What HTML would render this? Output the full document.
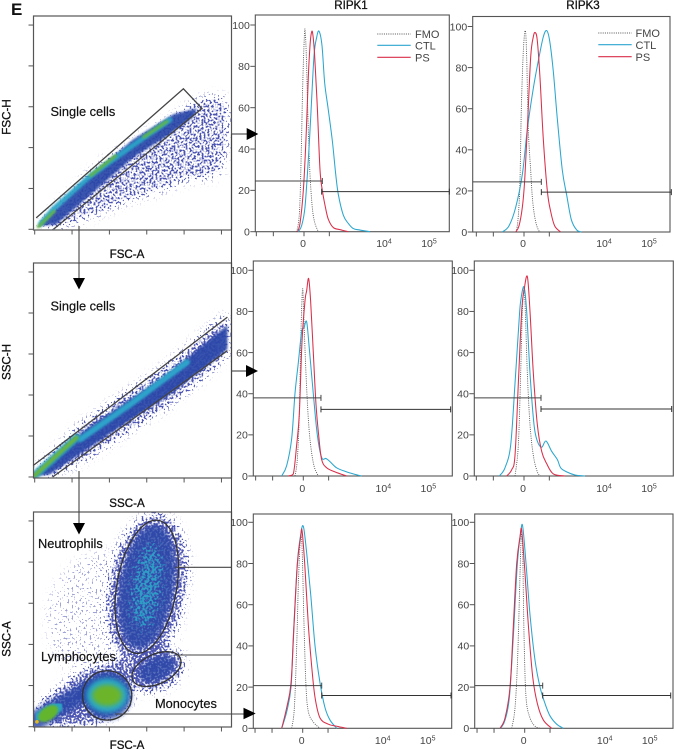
<!DOCTYPE html>
<html lang="en">
<head>
<meta charset="utf-8">
<title>RIPK1 and RIPK3 flow cytometry panel</title>
<style>
html,body{margin:0;padding:0;background:#fff;}
svg{display:block;font-family:"Liberation Sans",sans-serif;}
.title{font-size:11.6px;fill:#111;stroke:#111;stroke-width:.3px;}
.anno{font-size:12.8px;fill:#111;stroke:#111;stroke-width:.2px;}
.tick{font-size:10.5px;fill:#444;}
.legend{font-size:11px;fill:#444;}
</style>
</head>
<body>
<svg id="figure" xmlns="http://www.w3.org/2000/svg" width="674" height="749" viewBox="0 0 674 749">
  <defs>
    <filter id="speckle" x="-15%" y="-15%" width="130%" height="130%" color-interpolation-filters="sRGB">
      <feGaussianBlur in="SourceGraphic" stdDeviation="5" result="dens"/>
      <feTurbulence type="fractalNoise" baseFrequency=".5" numOctaves="1" seed="4" result="n"/>
      <feColorMatrix in="n" type="matrix" values="0 0 0 0 0  0 0 0 0 0  0 0 0 0 0  3 0 0 0 -1" result="noise"/>
      <feComposite in="dens" in2="noise" operator="arithmetic" k1="0" k2="1" k3="1" k4="-1" result="sum"/>
      <feColorMatrix in="sum" type="matrix" values="0 0 0 0 .3  0 0 0 0 .33  0 0 0 0 .7  0 0 0 3.2 0"/>
    </filter>
    <filter id="speckleTeal" x="-30%" y="-30%" width="160%" height="160%" color-interpolation-filters="sRGB">
      <feGaussianBlur in="SourceGraphic" stdDeviation="5" result="dens"/>
      <feTurbulence type="fractalNoise" baseFrequency=".42" numOctaves="1" seed="9" result="n"/>
      <feColorMatrix in="n" type="matrix" values="0 0 0 0 0  0 0 0 0 0  0 0 0 0 0  3 0 0 0 -1" result="noise"/>
      <feComposite in="dens" in2="noise" operator="arithmetic" k1="0" k2="1" k3="1" k4="-1" result="sum"/>
      <feColorMatrix in="sum" type="matrix" values="0 0 0 0 .18  0 0 0 0 .62  0 0 0 0 .78  0 0 0 2.6 0"/>
    </filter>
    <filter id="soft1" x="-30%" y="-30%" width="160%" height="160%"><feGaussianBlur stdDeviation="1"/></filter>
    <filter id="soft2" x="-30%" y="-30%" width="160%" height="160%"><feGaussianBlur stdDeviation="2.5"/></filter>
    <clipPath id="clip-fsc"><rect x="33.5" y="16" width="198" height="214"/></clipPath>
    <clipPath id="clip-ssc"><rect x="33.5" y="263" width="198" height="215"/></clipPath>
    <clipPath id="clip-gran"><rect x="33.5" y="512" width="198" height="215"/></clipPath>
  </defs>
  <g id="scatter-layer"></g>
  <g id="hist-layer"></g>
  <g id="arrow-layer"></g>

  <text x="11" y="15" font-size="17" font-weight="bold" fill="#111">E</text>
  <text class="title" x="351" y="9" text-anchor="middle">RIPK1</text>
  <text class="title" x="583" y="9" text-anchor="middle">RIPK3</text>

  <text class="title" transform="translate(10.5,117) rotate(-90)" text-anchor="middle">FSC-H</text>
  <text class="title" x="127" y="258" text-anchor="middle">FSC-A</text>
  <text class="title" transform="translate(10.5,362) rotate(-90)" text-anchor="middle">SSC-H</text>
  <text class="title" x="127" y="507" text-anchor="middle">SSC-A</text>
  <text class="title" transform="translate(10.5,639) rotate(-90)" text-anchor="middle">SSC-A</text>
  <text class="title" x="127" y="749" text-anchor="middle">FSC-A</text>

  <text class="anno" x="50.5" y="116">Single cells</text>
  <text class="anno" x="50.5" y="310.5">Single cells</text>
  <text class="anno" x="38" y="548">Neutrophils</text>
  <text class="anno" x="41" y="661">Lymphocytes</text>
  <text class="anno" x="155" y="708">Monocytes</text>

  <g>
    <text class="legend" x="415" y="38">FMO</text>
    <text class="legend" x="415" y="49.5">CTL</text>
    <text class="legend" x="415" y="61.5">PS</text>
  </g>
  <g>
    <text class="legend" x="635.5" y="37">FMO</text>
    <text class="legend" x="635.5" y="49">CTL</text>
    <text class="legend" x="635.5" y="61">PS</text>
  </g>
</svg>

<script>
/* ---------- Histogram data: [channel, % of max]. Channel 0 = "0" tick; 240 = 10^4; 375 = 10^5 ---------- */
const yTickValues = [0, 20, 40, 60, 80, 100];
const xTickChannels = [-143, -92, 0, 76];
const xDecadeChannels = [0, 240, 375];
const xDecadeLabels = ['0', '10', '10'];
const xDecadeExponents = ['', '4', '5'];

const ripk1TopFmo = [[-22,0],[-16,5],[-12,15],[-8,40],[-4,70],[0,90],[3,98],[7,85],[11,60],[16,35],[20,22],[26,10],[33,4],[43,0]];
const ripk1TopPs = [[-20,0],[-12,4],[-2,20],[6,45],[13,75],[18,90],[22,96],[26,96],[32,85],[40,60],[48,30],[55,20],[64,12],[73,6],[88,2],[108,1],[133,0]];
const ripk1TopCtl = [[-17,0],[-7,3],[3,12],[13,35],[20,55],[30,85],[38,94],[45,97],[54,90],[62,72],[72,60],[85,44],[95,28],[103,18],[118,8],[133,4],[148,1.5],[168,.8],[198,0]];

const ripk3TopFmo = [[-23,0],[-17,8],[-12,25],[-8,60],[-2,88],[4,98],[8,85],[13,50],[20,30],[26,15],[35,5],[45,.5],[52,0]];
const ripk3TopPs = [[-25,0],[-15,3],[-5,12],[2,25],[10,50],[20,85],[28,95],[34,97],[40,93],[48,75],[58,45],[70,20],[80,10],[92,3],[110,0]];
const ripk3TopCtl = [[-65,0],[-45,3],[-25,12],[-5,28],[10,50],[28,70],[45,85],[58,95],[68,98],[77,93],[88,78],[100,55],[115,30],[128,18],[142,6],[158,1],[172,0]];

const ripk1MidFmo = [[-25,0],[-18,8],[-12,30],[-7,70],[-2,91],[2,75],[8,50],[15,28],[22,15],[32,5],[45,0]];
const ripk1MidPs = [[-45,0],[-30,1],[-20,15],[-12,30],[-4,65],[5,85],[10,90],[16,96],[22,85],[30,60],[38,35],[46,20],[55,8],[70,4],[95,2],[130,0]];
const ripk1MidCtl = [[-65,0],[-50,5],[-35,18],[-25,40],[-15,55],[-5,70],[2,72],[10,75],[18,62],[30,40],[42,20],[55,9],[68,8.5],[80,7],[100,4],[130,2],[155,.8],[175,0]];

const ripk3MidFmo = [[-27,0],[-17,15],[-10,50],[-5,80],[0,91],[4,80],[10,50],[18,25],[28,10],[40,2],[50,0]];
const ripk3MidPs = [[-52,0],[-37,3],[-27,10],[-17,45],[-7,80],[0,90],[10,97],[18,80],[28,50],[40,25],[53,12],[68,6],[88,1],[123,0]];
const ripk3MidCtl = [[-74,0],[-57,4],[-40,15],[-27,45],[-15,75],[-10,85],[0,92],[8,80],[18,50],[30,25],[40,17],[53,14],[66,17],[83,12],[100,8],[110,4],[128,2],[153,.5],[183,0]];

const ripk1LowFmo = [[-33,0],[-25,10],[-18,40],[-13,70],[-7,92],[-2,88],[4,50],[10,20],[17,8],[32,3],[52,0]];
const ripk1LowPs = [[-63,0],[-48,10],[-35,22],[-26,50],[-16,80],[-6,93],[-2,96],[6,80],[17,50],[27,30],[37,15],[52,5],[77,2],[102,1],[132,0]];
const ripk1LowCtl = [[-63,0],[-48,8],[-35,20],[-28,45],[-16,80],[-6,94],[2,98],[12,85],[24,65],[37,40],[52,22],[67,10],[82,4],[102,0]];

const ripk3LowFmo = [[-39,0],[-29,10],[-21,35],[-14,75],[-10,94],[-6,85],[-2,45],[4,15],[16,5],[31,1],[46,0]];
const ripk3LowPs = [[-74,0],[-59,5],[-44,20],[-34,50],[-24,80],[-14,93],[-9,96],[1,75],[11,50],[24,25],[38,12],[56,4],[81,0]];
const ripk3LowCtl = [[-72,0],[-59,4],[-46,15],[-34,45],[-22,80],[-12,95],[-6,98],[4,80],[16,55],[31,33],[46,20],[61,12],[76,6],[96,2],[116,0]];

/* gate bars: [%, end/start channel, end channel] */
const ripk1TopGates = [24.5, 55, 19.4, 53, 436];
const ripk3TopGates = [24.4, 52, 19.4, 52, 442];
const ripk1MidGates = [38, 53, 32.4, 53, 442];
const ripk3MidGates = [38, 51, 32.6, 51, 443];
const ripk1LowGates = [20.7, 57, 15.9, 57, 445];
const ripk3LowGates = [20.7, 54, 15.9, 54, 438];

/* ---------- Scatter data, in thousands of events-scale units (0-250k) ---------- */
const scatterTicks = [0, 50, 100, 150, 200, 250];

const fscCloud = [[3,3],[88,81],[195,144],[221,160],[248,164],[259,154],[259,109],[248,65],[204,60],[159,44],[128,36],[79,16],[29,1]];
const fscDense = [[4,4],[65,58],[132,110],[186,141],[217,148],[213,138],[177,114],[132,88],[79,46],[29,6]];
const fscCyanRidge = [[8,7],[25,25],[74,65],[132,103],[181,134]];
const fscGreenRidges = [[[5,3],[26,22]],[[75,66],[108,90]],[[146,113],[177,132]]];
const fscGate = [[2,14],[199,172],[224,148],[25,0]];

const sscCloud = [[-2,6],[65,66],[177,136],[258,200],[258,148],[221,118],[177,86],[132,60],[65,20],[20,0]];
const sscDense = [[-2,1],[65,56],[177,125],[258,185],[258,156],[221,129],[177,98],[132,72],[65,31],[20,3]];
const sscCyanRidge = [[61,46],[130,90],[204,140]];
const sscGreenRidge = [[0,2],[56,48]];
const sscGateUpper = [[-2,14],[258,195]];
const sscGateLower = [[24,0],[258,154]];

/* ellipses: [centre x, centre y, radius x, radius y, rotation deg] */
const granSparse = [[105,130,90,85,0]];
const granNeutrophilCloud = [[150,168,52,92,10]];
const granMonocyteCloud = [[163,70,38,25,-25]];
const granLowBandCloud = [[0,24],[65,68],[123,84],[132,32],[88,4],[25,0]];
const granNeutrophilCore = [[150,170,36,76,9]];
const granNeutrophilTeal = [[150,170,20,54,8]];
const granMonocyteCore = [[163,70,26,14,-25]];
const granLymphRing = [[97,38,32,29,0]];
const granLymphCyan = [[97,38,28,21,0]];
const granLymphGreen = [[97,38,20,13,0]];
const granDebrisBand = [[3,8],[75,46]];
const granDebrisTeal = [[8,12],[30,24]];
const granDebrisGreen = [[18,16,15,8,-35]];
const granDebrisYellow = [[3,6,2.5,2.2,0]];
const granNeutrophilGate = [[150,170,40,82,10]];
const granLymphGate = [[97,38,33,30,0]];
const granMonocyteGate = [[163,70,35,18,-25]];

/* ---------- Drawing ---------- */
const NS = 'http://www.w3.org/2000/svg';
function make(parent, tag, attrs) {
  const el = document.createElementNS(NS, tag);
  for (const k in attrs) el.setAttribute(k, attrs[k]);
  parent.appendChild(el);
  return el;
}
const scatterLayer = document.getElementById('scatter-layer');
const histLayer = document.getElementById('hist-layer');
const arrowLayer = document.getElementById('arrow-layer');

function smoothPath(pts, floor) {
  let d = 'M' + pts[0][0].toFixed(2) + ' ' + pts[0][1].toFixed(2);
  for (let i = 0; i < pts.length - 1; i++) {
    const p0 = pts[Math.max(i - 1, 0)], p1 = pts[i], p2 = pts[i + 1], p3 = pts[Math.min(i + 2, pts.length - 1)];
    const c1x = p1[0] + (p2[0] - p0[0]) / 6, c1y = Math.min(floor, p1[1] + (p2[1] - p0[1]) / 6);
    const c2x = p2[0] - (p3[0] - p1[0]) / 6, c2y = Math.min(floor, p2[1] - (p3[1] - p1[1]) / 6);
    d += 'C' + [c1x, c1y, c2x, c2y, p2[0], p2[1]].map(v => v.toFixed(2)).join(' ');
  }
  return d;
}

/* Histograms */
const histPanels = [
  {name:'ripk1-top', left:255.3, right:449.3, top:15, y0:231.7, y100:25, x0:304, labelY:247, fmo:ripk1TopFmo, ps:ripk1TopPs, ctl:ripk1TopCtl, gates:ripk1TopGates},
  {name:'ripk3-top', left:472.7, right:670, top:16.5, y0:232, y100:26.5, x0:524, labelY:247, fmo:ripk3TopFmo, ps:ripk3TopPs, ctl:ripk3TopCtl, gates:ripk3TopGates},
  {name:'ripk1-middle', left:253.3, right:452.3, top:261, y0:476, y100:270.3, x0:303.3, labelY:492, fmo:ripk1MidFmo, ps:ripk1MidPs, ctl:ripk1MidCtl, gates:ripk1MidGates},
  {name:'ripk3-middle', left:474.3, right:673.3, top:261, y0:476, y100:270.3, x0:524, labelY:492, fmo:ripk3MidFmo, ps:ripk3MidPs, ctl:ripk3MidCtl, gates:ripk3MidGates},
  {name:'ripk1-bottom', left:253.3, right:451.7, top:514, y0:728.3, y100:522.3, x0:302.7, labelY:744, fmo:ripk1LowFmo, ps:ripk1LowPs, ctl:ripk1LowCtl, gates:ripk1LowGates},
  {name:'ripk3-bottom', left:474.7, right:673, top:514, y0:728.3, y100:522.3, x0:524.7, labelY:744, fmo:ripk3LowFmo, ps:ripk3LowPs, ctl:ripk3LowCtl, gates:ripk3LowGates}
];

histPanels.forEach(function (p) {
  const xScale = c => p.x0 + c / 3;
  const yScale = v => p.y0 - v * (p.y0 - p.y100) / 100;
  const g = make(histLayer, 'g', {});
  
  

  const frame = make(g, 'rect', {x:p.left, y:p.top, width:p.right - p.left, height:p.y0 - p.top, fill:'none', stroke:'#555', 'stroke-width':1.1});
  
  

  yTickValues.forEach(function (v) {
    const t = make(g, 'line', {x1:p.left - 5, x2:p.left, y1:yScale(v), y2:yScale(v), stroke:'#555', 'stroke-width':1});
    
    
    const lab = make(g, 'text', {x:p.left - 5.5, y:yScale(v) + 3.8, 'text-anchor':'end', class:'tick'});
    lab.textContent = String(v);
    
    
  });
  xTickChannels.forEach(function (c) {
    const t = make(g, 'line', {x1:xScale(c), x2:xScale(c), y1:p.y0, y2:p.y0 + 4.5, stroke:'#555', 'stroke-width':1});
    
    
  });
  xDecadeChannels.forEach(function (c, i) {
    const lab = make(g, 'text', {x:xScale(c) - (i ? 0 : 1), y:p.labelY, 'text-anchor':'middle', class:'tick'});
    lab.textContent = xDecadeLabels[i];
    if (xDecadeExponents[i]) {
      const sup = make(lab, 'tspan', {dy:-3.5, 'font-size':7});
      sup.textContent = xDecadeExponents[i];
    }
    
    
  });

  const toPts = s => s.map(d => [xScale(d[0]), yScale(d[1])]);
  const fmo = make(g, 'path', {d:smoothPath(toPts(p.fmo), p.y0), fill:'none', stroke:'#555', 'stroke-width':.9, 'stroke-dasharray':'1 1.2'});
  
  
  const ctl = make(g, 'path', {d:smoothPath(toPts(p.ctl), p.y0), fill:'none', stroke:'#2ba6cf', 'stroke-width':1.05});
  
  
  const ps = make(g, 'path', {d:smoothPath(toPts(p.ps), p.y0), fill:'none', stroke:'#d92f4a', 'stroke-width':1.05});
  
  

  const gv = p.gates;
  const neg = make(g, 'path', {d:'M' + p.left + ' ' + yScale(gv[0]) + 'H' + xScale(gv[1]) + 'M' + xScale(gv[1]) + ' ' + (yScale(gv[0]) - 3) + 'v6', fill:'none', stroke:'#444', 'stroke-width':1});
  
  
  const pos = make(g, 'path', {d:'M' + xScale(gv[3]) + ' ' + yScale(gv[2]) + 'H' + xScale(gv[4]) + 'M' + xScale(gv[3]) + ' ' + (yScale(gv[2]) - 3) + 'v6M' + xScale(gv[4]) + ' ' + (yScale(gv[2]) - 3) + 'v6', fill:'none', stroke:'#333', 'stroke-width':1});
  
  
});

/* Legend keys */
[[377.3, 410.7, 34, 45.3, 57.3, 'ripk1'], [598.3, 631.7, 33, 44.7, 56.7, 'ripk3']].forEach(function (k) {
  const a = make(histLayer, 'line', {x1:k[0], x2:k[1], y1:k[2], y2:k[2], stroke:'#555', 'stroke-width':.9, 'stroke-dasharray':'1 1.2'});
  
  
  const b = make(histLayer, 'line', {x1:k[0], x2:k[1], y1:k[3], y2:k[3], stroke:'#2ba6cf', 'stroke-width':1.05});
  
  
  const c = make(histLayer, 'line', {x1:k[0], x2:k[1], y1:k[4], y2:k[4], stroke:'#d92f4a', 'stroke-width':1.05});
  
  
});

/* Scatter plots */
const xK = v => 34.7 + v * 0.747;
function scatterFrame(name, top, bottom, y0, perK, clipId) {
  const yK = v => y0 - v * perK;
  const g = make(scatterLayer, 'g', {});
  
  
  const clip = make(g, 'g', {'clip-path':'url(#' + clipId + ')'});
  
  
  const frame = make(g, 'rect', {x:33.5, y:top, width:198, height:bottom - top, fill:'none', stroke:'#555', 'stroke-width':1.2});
  
  
  scatterTicks.forEach(function (v) {
    const ty = make(g, 'line', {x1:28.5, x2:33.5, y1:yK(v), y2:yK(v), stroke:'#555', 'stroke-width':1});
    
    
    const tx = make(g, 'line', {x1:xK(v), x2:xK(v), y1:bottom, y2:bottom + 4.5, stroke:'#555', 'stroke-width':1});
    
    
  });
  return {g, clip, yK};
}
function polyPoints(arr, yK) { return arr.map(d => xK(d[0]).toFixed(1) + ',' + yK(d[1]).toFixed(1)).join(' '); }
function blobPoly(parent, arr, yK, fill, filter, opacity, name) {
  const el = make(parent, 'polygon', {points:polyPoints(arr, yK), fill:fill, opacity:opacity});
  if (filter) el.setAttribute('filter', 'url(#' + filter + ')');
  
  
  return el;
}
function ridge(parent, arr, yK, stroke, width, filter, opacity, name) {
  const el = make(parent, 'polyline', {points:polyPoints(arr, yK), fill:'none', stroke:stroke, 'stroke-width':width, 'stroke-linecap':'round', opacity:opacity});
  if (filter) el.setAttribute('filter', 'url(#' + filter + ')');
  
  
  return el;
}
function ellipses(parent, arr, yK, perK, style, name) {
  arr.forEach(function (e) {
    const cx = xK(e[0]), cy = yK(e[1]);
    const attrs = {cx:cx, cy:cy, rx:e[2] * 0.747, ry:e[3] * perK, transform:'rotate(' + e[4] + ' ' + cx + ' ' + cy + ')'};
    for (const k in style) attrs[k] = style[k];
    const el = make(parent, 'ellipse', attrs);
    
    
  });
}
const gateStyle = {fill:'none', stroke:'#333', 'stroke-width':1.3};

/* FSC-A vs FSC-H */
const fsc = scatterFrame('fsc', 16, 230, 229.3, 0.817, 'clip-fsc');
const fscSpeck = make(fsc.clip, 'g', {filter:'url(#speckle)'});


blobPoly(fscSpeck, fscCloud, fsc.yK, '#000', null, .55, 'fsc-cell-cloud');
blobPoly(fsc.clip, fscDense, fsc.yK, '#2c46a8', 'soft1', .92, 'fsc-dense-band');
ridge(fsc.clip, fscCyanRidge, fsc.yK, '#2aa5c8', 5, 'soft1', .95, 'fsc-cyan-ridge');
fscGreenRidges.forEach(function (r) {
  ridge(fsc.clip, r, fsc.yK, '#63b545', 3, 'soft1', 1, 'fsc-green-ridge');
});
const fscGateEl = make(fsc.g, 'polyline', {points:polyPoints(fscGate, fsc.yK), fill:'none', stroke:'#444', 'stroke-width':1.3});



/* SSC-A vs SSC-H */
const ssc = scatterFrame('ssc', 263, 478, 477, 0.82, 'clip-ssc');
const sscSpeck = make(ssc.clip, 'g', {filter:'url(#speckle)'});


blobPoly(sscSpeck, sscCloud, ssc.yK, '#000', null, .7, 'ssc-cell-cloud');
blobPoly(ssc.clip, sscDense, ssc.yK, '#2c46a8', 'soft1', .93, 'ssc-dense-band');
ridge(ssc.clip, sscCyanRidge, ssc.yK, '#2ea8cc', 6, 'soft1', .95, 'ssc-cyan-ridge');
ridge(ssc.clip, sscGreenRidge, ssc.yK, '#2aa0c4', 8, 'soft1', .9, 'ssc-teal-ridge');
ridge(ssc.clip, sscGreenRidge, ssc.yK, '#6ab63c', 4, 'soft1', 1, 'ssc-green-ridge');
const sscUp = make(ssc.g, 'polyline', {points:polyPoints(sscGateUpper, ssc.yK), fill:'none', stroke:'#444', 'stroke-width':1.3});


const sscLow = make(ssc.g, 'polyline', {points:polyPoints(sscGateLower, ssc.yK), fill:'none', stroke:'#444', 'stroke-width':1.3});



/* FSC-A vs SSC-A */
const gPerK = 0.823;
const gran = scatterFrame('granulocyte', 512, 727, 726.7, gPerK, 'clip-gran');
const granSparseG = make(gran.clip, 'g', {filter:'url(#speckle)'});


ellipses(granSparseG, granSparse, gran.yK, gPerK, {fill:'#000', opacity:.17}, 'background-cloud');
const granSpeck = make(gran.clip, 'g', {filter:'url(#speckle)'});


ellipses(granSpeck, granNeutrophilCloud, gran.yK, gPerK, {fill:'#000', opacity:.8}, 'neutrophil-cloud');
ellipses(granSpeck, granMonocyteCloud, gran.yK, gPerK, {fill:'#000', opacity:.85}, 'monocyte-cloud');
blobPoly(granSpeck, granLowBandCloud, gran.yK, '#000', null, .85, 'low-band-cloud');
ellipses(gran.clip, granNeutrophilCore, gran.yK, gPerK, {fill:'#2c46a8', filter:'url(#soft2)', opacity:.85}, 'neutrophil-core');
const granTealSpeck = make(gran.clip, 'g', {filter:'url(#speckleTeal)'});


ellipses(granTealSpeck, granNeutrophilTeal, gran.yK, gPerK, {fill:'#000', opacity:.72}, 'neutrophil-teal-core');
ellipses(gran.clip, granMonocyteCore, gran.yK, gPerK, {fill:'#2c46a8', filter:'url(#soft2)', opacity:.8}, 'monocyte-core');
ridge(gran.clip, granDebrisBand, gran.yK, '#2c46a8', 19, 'soft2', .85, 'debris-band');
ridge(gran.clip, granDebrisTeal, gran.yK, '#2aa5c4', 12, 'soft1', .95, 'debris-teal');
ellipses(gran.clip, granDebrisGreen, gran.yK, gPerK, {fill:'#63b52e', filter:'url(#soft1)'}, 'debris-green');
ellipses(gran.clip, granDebrisYellow, gran.yK, gPerK, {fill:'#e0b81c'}, 'debris-yellow');
ellipses(gran.clip, granLymphRing, gran.yK, gPerK, {fill:'#2c46a8', filter:'url(#soft2)', opacity:.9}, 'lymphocyte-outer');
ellipses(gran.clip, granLymphCyan, gran.yK, gPerK, {fill:'#2aa8c6', filter:'url(#soft2)'}, 'lymphocyte-cyan');
ellipses(gran.clip, granLymphGreen, gran.yK, gPerK, {fill:'#6cb52c', filter:'url(#soft2)'}, 'lymphocyte-green');
ellipses(gran.g, granNeutrophilGate, gran.yK, gPerK, gateStyle, 'neutrophils-gate');
ellipses(gran.g, granLymphGate, gran.yK, gPerK, gateStyle, 'lymphocytes-gate');
ellipses(gran.g, granMonocyteGate, gran.yK, gPerK, gateStyle, 'monocytes-gate');

/* Gating arrows */
function connector(d, name) {
  const el = make(arrowLayer, 'path', {d:d, fill:'none', stroke:'#444', 'stroke-width':1.1});
  
  
}
function head(points, name) {
  const el = make(arrowLayer, 'polygon', {points:points, fill:'#000'});
  
  
}
connector('M231.5 134V655', 'main-gate-connector');
connector('M231.5 134H247', 'fsc-to-histogram-line');
head('246.7,128 258.3,134 246.7,140', 'fsc-to-histogram-arrowhead');
connector('M231.5 371H246', 'ssc-to-histogram-line');
head('246,365 258,371 246,377', 'ssc-to-histogram-arrowhead');
connector('M79 226V279', 'fsc-to-ssc-line');
head('73,278 85,278 79,289.5', 'fsc-to-ssc-arrowhead');
connector('M79 471V524', 'ssc-to-fsc-line');
head('73,523 85,523 79,534.5', 'ssc-to-fsc-arrowhead');
connector('M175 567.3H231.5', 'neutrophils-connector');
connector('M175 655H231.5', 'monocytes-connector');
connector('M115 714H245', 'lymphocytes-connector');
head('243.5,707.7 255.7,713.5 243.5,719.3', 'lymphocytes-arrowhead');
</script>
</body>
</html>
